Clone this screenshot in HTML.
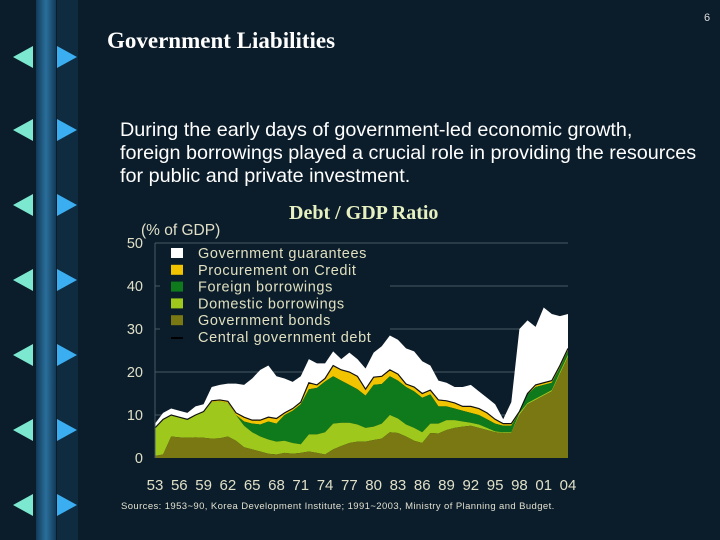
<!DOCTYPE html>
<html><head><meta charset="utf-8"><style>
body{margin:0;width:720px;height:540px;overflow:hidden;background:#0b1c2a;font-family:"Liberation Sans",sans-serif}
#root{position:relative;width:720px;height:540px}
.t{position:absolute;white-space:nowrap}
</style></head><body><div id="root">
<svg width="720" height="540" style="position:absolute;left:0;top:0">
<defs><linearGradient id="vg" x1="0" x2="1"><stop offset="0" stop-color="#123a58"/><stop offset="0.5" stop-color="#2a6f9c"/><stop offset="1" stop-color="#123a58"/></linearGradient></defs>
<rect x="36" y="0" width="20" height="540" fill="url(#vg)"/>
<rect x="57" y="0" width="21" height="540" fill="#0f2b40"/>
<g id="tris"></g>
</svg>
<div class="t" style="left:704px;top:12px;font-size:11px;color:#ddd">6</div>
<div class="t" style="left:107px;top:28px;font:bold 23px 'Liberation Serif',serif;color:#fff">Government Liabilities</div>
<div class="t" style="left:120px;top:119px;font-size:19.8px;line-height:23px;color:#fff">During the early days of government-led economic growth,<br>foreign borrowings played a crucial role in providing the resources<br>for public and private investment.</div>
<div class="t" style="left:289px;top:202px;font:bold 20px 'Liberation Serif',serif;color:#e6f0c0">Debt / GDP Ratio</div>
<svg id="chart" width="720" height="540" style="position:absolute;left:0;top:0"></svg>
<div class="t" style="left:121px;top:501px;font-size:9.5px;letter-spacing:0.4px;color:#e0e0d0">Sources: 1953~90, Korea Development Institute; 1991~2003, Ministry of Planning and Budget.</div>
</div>
<script>
const years=[53,54,55,56,57,58,59,60,61,62,63,64,65,66,67,68,69,70,71,72,73,74,75,76,77,78,79,80,81,82,83,84,85,86,87,88,89,90,91,92,93,94,95,96,97,98,99,100,101,102,103,104];
const xTickLabels=["53","56","59","62","65","68","71","74","77","80","83","86","89","92","95","98","01","04"];
const yTicks=[0,10,20,30,40,50];
const bonds=[0.5,0.8,5,4.8,4.7,4.8,4.7,4.5,4.6,5,4,2.5,2,1.5,1,0.8,1.2,1,1.2,1.5,1.2,0.8,2,2.8,3.5,3.8,3.8,4.2,4.5,6,5.8,5,4,3.5,5.8,5.7,6.5,7,7.3,7.5,7,6.5,6,5.8,5.8,10,12.5,13.5,14.5,15.5,19.5,23.5];
const domesticCum=[7,9,10,9.5,9,10,10.8,13,13.2,12.8,10,7.5,6,5,4.3,3.8,4,3.5,3.2,5.5,5.5,6,8,8.2,8.2,7.8,7,7.3,8,10,9.2,7.8,7,6,8,8,8.8,8.8,8.5,8.2,7.8,7,6.2,6,6,10.5,12.8,13.8,14.8,15.8,20,24];
const foreignCum=[7,9,10,9.5,9,10,10.8,13,13.2,12.8,10,8.5,8,7.8,8.5,8,10,11,12.5,16,16.3,17.8,19,18,17,16,14.5,17,17.2,19,18,16.5,15.5,14,14.8,12,12,11.5,11,10.5,10,9,8,7.5,7.5,10.5,14.8,16.5,17,17.5,21,25];
const procurementCum=[7,9,10,9.5,9,10,10.8,13.3,13.5,13.2,10.5,9.5,8.8,8.8,9.5,9.2,10.5,11.5,13,17.5,17,18.5,21.5,20.5,20,19,16,18.8,19,20.5,19.5,17.2,16.5,15,15.8,13.5,13.3,12.8,12,12,11.5,10.5,9,8,8,10.8,15,17,17.5,18,21.5,25.5];
const totalCum=[8,10.5,11.5,11,10.5,12,12.5,16.5,17,17.3,17.3,17,18.5,20.5,21.5,19,18.5,17.7,19,23,22,22,24.8,23,24.5,23,20.8,24.5,26,28.5,27.5,25.5,24.8,22.5,21.5,18,17.5,16.5,16.5,17,15.5,14,12.5,9,13,30,32,30.5,35,33.5,33,33.5];
const NS="http://www.w3.org/2000/svg";
const X0=155,X1=568,Y0=458,Y1=243;
const xs=i=>X0+(X1-X0)*i/(years.length-1);
const ys=v=>Y0-(Y0-Y1)*v/50;
const svg=document.getElementById('chart');
function mk(t,a){const e=document.createElementNS(NS,t);for(const k in a)e.setAttribute(k,a[k]);svg.appendChild(e);return e;}
const tg=document.getElementById('tris');
[57,130,205,280,355,430,505].forEach(cy=>{
 const l=document.createElementNS(NS,'polygon');l.setAttribute('points',`13,${cy} 33,${cy-11} 33,${cy+11}`);l.setAttribute('fill','#7de8d0');
 
 tg.appendChild(l);
 const r=document.createElementNS(NS,'polygon');r.setAttribute('points',`57,${cy-11} 57,${cy+11} 77,${cy}`);r.setAttribute('fill','#3aaef0');
 
 tg.appendChild(r);
});
yTicks.forEach(v=>{if(v>0){const g=mk('line',{x1:X0,x2:X1,y1:ys(v),y2:ys(v),stroke:'#4a5a66','stroke-width':1});

}
 const t=mk('text',{x:143,y:ys(v)+5,'text-anchor':'end','font-size':14.5,fill:'#e0e0c8','font-family':'Liberation Sans'});t.textContent=v;
 
 });
const lb=mk('rect',{x:160,y:244,width:230,height:100,fill:'#0b1c2a'});


function area(top,bot,fill,name){let d='M'+top.map((v,i)=>xs(i)+','+ys(v)).join('L');
 for(let i=bot.length-1;i>=0;i--)d+='L'+xs(i)+','+ys(bot[i]);
 const p=mk('path',{d:d+'Z',fill:fill});}
const zero=years.map(()=>0);
area(totalCum,procurementCum,'#ffffff','area-guarantees');
area(procurementCum,foreignCum,'#f2c400','area-procurement');
area(foreignCum,domesticCum,'#0e7a1c','area-foreign');
area(domesticCum,bonds,'#9ec81c','area-domestic');
area(bonds,zero,'#7a7812','area-bonds');
const ln=mk('polyline',{points:procurementCum.map((v,i)=>xs(i)+','+ys(v)).join(' '),fill:'none',stroke:'#111','stroke-width':1.2});


const ax=mk('line',{x1:X0,x2:X0,y1:Y1,y2:Y0,stroke:'#4a5a66'});


xTickLabels.forEach((s,k)=>{const t=mk('text',{x:xs(k*3),y:490,'text-anchor':'middle','font-size':15,fill:'#e0e0c8','font-family':'Liberation Sans'});t.textContent=s;
 
 });
const yt=mk('text',{x:141,y:235,'font-size':15.5,fill:'#e0e0c8','font-family':'Liberation Sans'});yt.textContent='(% of GDP)';


const legNames=['Government guarantees','Procurement on Credit','Foreign borrowings','Domestic borrowings','Government bonds','Central government debt'];
const legCols=['#ffffff','#f2c400','#0e7a1c','#9ec81c','#7a7812',null];
legNames.forEach((n,i)=>{const y=252+i*16.8;
 let s;if(legCols[i])s=mk('rect',{x:171,y:y-4,width:12,height:10,fill:legCols[i]});else s=mk('line',{x1:171,x2:183,y1:y+2,y2:y+2,stroke:'#000','stroke-width':2});
 
 
 const t=mk('text',{x:198,y:y+6,'font-size':14.5,fill:'#e0e0c0','font-family':'Liberation Sans','letter-spacing':'0.6'});t.textContent=n;
 
 });
</script></body></html>
